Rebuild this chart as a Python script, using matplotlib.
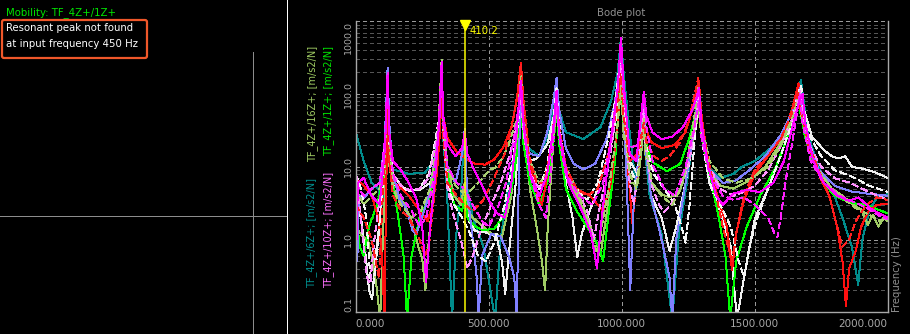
import matplotlib
matplotlib.use("Agg")
import matplotlib.pyplot as plt
import matplotlib.transforms as mtransforms
from matplotlib.patches import FancyBboxPatch

# ---------------------------------------------------------------- data
# Transfer-function magnitudes, (frequency Hz, magnitude m/s2/N)
teal_pts = [(0, 30), (30, 12), (60, 6), (85, 5), (100, 3), (114, 12), (120, 60), (126, 12), (140, 9),
            (150, 9), (200, 8), (260, 8.3), (295, 12), (303, 20), (317, 40), (323, 100), (329, 25), (343, 5),
            (362, 0.08), (380, 1.5), (395, 4), (404, 15), (410, 30), (416, 6), (440, 2), (480, 0.8),
            (524, 0.08), (545, 1), (575, 6), (600, 20), (611, 45), (621, 120), (631, 40), (650, 18),
            (690, 14), (720, 25), (745, 60), (755, 120), (765, 60), (790, 30), (855, 24), (920, 35),
            (960, 80), (985, 200), (997, 585), (1007, 200), (1030, 30), (1055, 5), (1070, 12), (1077, 30),
            (1083, 60), (1089, 15), (1105, 4), (1150, 1.2), (1190, 0.08), (1215, 1.2), (1245, 6),
            (1265, 20), (1280, 45), (1290, 90), (1300, 30), (1325, 10), (1370, 7), (1420, 8), (1452, 10),
            (1500, 12), (1560, 18), (1610, 31), (1640, 60), (1660, 100), (1674, 155), (1684, 80),
            (1700, 30), (1715, 18.6), (1750, 8), (1790, 5), (1830, 2), (1865, 0.8), (1889, 0.24),
            (1905, 1), (1930, 2.5), (1960, 3.8), (2000, 4.2)]

white_pts = [(0, 3.5), (20, 2), (40, 0.5), (50, 0.2), (62, 0.15), (75, 0.6), (95, 2.5), (110, 10),
             (116, 30), (120, 80), (124, 25), (132, 8), (150, 5.5), (200, 4.7), (240, 4.8), (280, 6),
             (305, 15), (317, 40), (323, 150), (329, 30), (343, 8), (370, 3), (400, 2.5), (410, 4),
             (425, 1.8), (450, 1.3), (490, 1.25), (530, 1.1), (550, 0.5), (562, 0.18), (575, 0.6), (600, 5),
             (611, 20), (621, 90), (631, 30), (655, 12), (680, 13), (720, 20), (745, 50), (755, 100),
             (765, 40), (790, 6), (815, 2), (833, 0.57), (850, 1.2), (900, 4), (950, 15), (985, 60),
             (997, 300), (1007, 80), (1030, 12), (1060, 8), (1077, 30), (1083, 80), (1089, 20), (1110, 4),
             (1150, 2), (1180, 0.7), (1205, 1.5), (1240, 6), (1270, 25), (1290, 120), (1300, 35),
             (1330, 6), (1370, 2.5), (1410, 0.8), (1433, 0.08), (1460, 0.3), (1500, 1.9), (1550, 5),
             (1600, 15), (1640, 40), (1660, 90), (1670, 123), (1680, 70), (1700, 40), (1715, 26),
             (1760, 17), (1790, 14), (1815, 13), (1840, 14), (1866, 10), (1900, 9.5), (1950, 8.5),
             (2000, 7)]

red_pts = [(0, 7), (30, 5.5), (60, 4), (85, 2), (100, 0.5), (108, 0.08), (114, 4), (120, 40), (126, 12),
           (140, 6), (160, 5.5), (200, 4), (240, 2.5), (270, 1.8), (290, 3), (305, 8), (317, 30), (323, 120),
           (329, 50), (345, 25), (380, 16), (420, 12.5), (450, 11), (486, 10.7), (520, 12.5), (555, 18.6),
           (585, 35), (605, 80), (621, 266), (631, 80), (655, 12), (675, 5), (700, 3), (712, 5), (735, 20),
           (755, 80), (765, 30), (790, 8), (830, 5), (880, 4), (930, 2.5), (960, 6), (985, 40), (997, 200),
           (1007, 60), (1025, 8), (1040, 1.7), (1055, 6), (1077, 25), (1083, 60), (1089, 35), (1110, 22),
           (1150, 18), (1200, 20), (1240, 30), (1265, 60), (1280, 100), (1290, 150), (1300, 50),
           (1325, 12), (1360, 4), (1395, 1.5), (1415, 0.38), (1430, 1.2), (1460, 3.5), (1500, 8),
           (1550, 14), (1600, 25), (1640, 60), (1665, 140), (1675, 60), (1700, 20), (1740, 8), (1780, 4),
           (1810, 1.5), (1830, 0.5), (1843, 0.12), (1855, 0.4), (1880, 0.7), (1900, 1.5), (1930, 2.5),
           (1960, 3), (2000, 3.1)]

green_pts = [(0, 2.5), (15, 0.8), (30, 0.6), (50, 1.5), (80, 3), (100, 6), (114, 40), (120, 231), (126, 30),
             (140, 6), (160, 2), (180, 0.6), (193, 0.08), (210, 0.6), (240, 2), (280, 4), (305, 12),
             (317, 60), (323, 292), (329, 40), (345, 8), (370, 3), (400, 2.5), (410, 4), (420, 2), (450, 1.5),
             (480, 1.35), (520, 1.4), (560, 2.2), (590, 6), (611, 20), (621, 80), (631, 20), (655, 6),
             (690, 3), (720, 6), (745, 25), (755, 60), (765, 20), (790, 5), (830, 2.5), (880, 1.3),
             (915, 0.8), (930, 0.5), (945, 1.5), (975, 12), (997, 200), (1007, 40), (1030, 12), (1060, 15),
             (1077, 35), (1083, 60), (1089, 25), (1110, 12), (1170, 8.7), (1220, 11), (1255, 25), (1280, 60),
             (1290, 100), (1300, 30), (1330, 8), (1365, 2), (1390, 0.6), (1408, 0.08), (1430, 0.5),
             (1470, 1.5), (1520, 4), (1580, 10), (1630, 30), (1660, 90), (1670, 60), (1690, 25), (1720, 12),
             (1760, 6), (1800, 4), (1860, 3.2), (1920, 3), (1960, 2.6), (2000, 2.3)]

magenta_pts = [(0, 12), (4, 1), (8, 6), (30, 7), (60, 4), (90, 3), (108, 15), (114, 40), (120, 180),
               (126, 30), (140, 12), (170, 9), (200, 6), (230, 3.5), (250, 1.5), (265, 0.26), (280, 1.5),
               (300, 8), (317, 60), (323, 280), (329, 50), (345, 20), (375, 14), (400, 18), (410, 30),
               (420, 15), (440, 10), (470, 6), (500, 3.5), (530, 2.3), (560, 2), (585, 6), (605, 30),
               (621, 150), (631, 40), (655, 8), (690, 4), (720, 8), (745, 40), (755, 110), (765, 30),
               (800, 6), (850, 2.5), (885, 1.2), (907, 0.4), (925, 2), (960, 25), (985, 120), (997, 585),
               (1007, 150), (1030, 15), (1055, 12), (1070, 40), (1083, 108), (1093, 50), (1115, 30),
               (1150, 24), (1190, 26), (1230, 35), (1265, 60), (1282, 90), (1290, 120), (1300, 40),
               (1325, 10), (1355, 4), (1380, 3), (1420, 4.3), (1470, 4.8), (1520, 4.5), (1570, 6),
               (1610, 12), (1645, 40), (1668, 80), (1680, 100), (1690, 40), (1720, 12), (1760, 6),
               (1810, 4), (1855, 3.4), (1890, 3.8), (1940, 2.6), (2000, 2)]

purple_pts = [(0, 5), (6, 0.5), (12, 4), (30, 3.7), (60, 5), (90, 6), (108, 20), (114, 60), (120, 231),
              (126, 40), (140, 8), (165, 3.5), (185, 2.9), (200, 2), (215, 1.3), (228, 1.2), (245, 1.8),
              (275, 4), (305, 20), (317, 60), (323, 200), (329, 40), (345, 10), (375, 6), (400, 15),
              (410, 33), (418, 5), (440, 1), (455, 0.3), (462, 0.08), (475, 0.6), (510, 1.2), (545, 1.1),
              (575, 0.6), (596, 0.3), (606, 0.08), (614, 15), (621, 100), (631, 35), (655, 15), (690, 14),
              (720, 30), (745, 90), (755, 166), (765, 60), (790, 18), (820, 11), (855, 9.2), (900, 11),
              (945, 25), (975, 80), (997, 350), (1007, 60), (1020, 5), (1032, 0.2), (1045, 3), (1070, 25),
              (1083, 70), (1089, 20), (1110, 4), (1150, 1), (1180, 0.3), (1190, 0.08), (1205, 1),
              (1240, 6), (1270, 30), (1290, 100), (1300, 35), (1330, 9), (1380, 6), (1430, 6.5), (1480, 9),
              (1540, 14), (1600, 28), (1645, 60), (1670, 120), (1680, 60), (1700, 25), (1740, 9),
              (1800, 5.5), (1860, 4.6), (1920, 4.3), (2000, 4)]

lime_pts = [(0, 1.5), (25, 1.1), (45, 1.0), (65, 0.5), (80, 0.2), (92, 0.08), (102, 1), (112, 8), (118, 50),
            (124, 12), (140, 5), (160, 4), (185, 3), (210, 1.8), (235, 0.8), (250, 0.55), (262, 0.2),
            (275, 1), (295, 6), (310, 30), (323, 292), (329, 50), (345, 10), (370, 4), (395, 3), (410, 6),
            (420, 2.5), (440, 2), (470, 1.6), (510, 1.2), (550, 1.1), (585, 4), (605, 25), (621, 200),
            (631, 30), (655, 5), (680, 1.5), (700, 0.5), (712, 0.2), (722, 1.5), (740, 15), (755, 80),
            (765, 30), (790, 8), (830, 4), (870, 2), (900, 1), (920, 0.6), (945, 2.5), (975, 15), (997, 120),
            (1007, 30), (1030, 6), (1060, 6), (1077, 20), (1083, 50), (1089, 15), (1110, 6), (1150, 4.2),
            (1180, 3.8), (1215, 4.3), (1245, 10), (1275, 30), (1290, 60), (1300, 25), (1330, 9), (1370, 5.5),
            (1420, 5), (1480, 6.5), (1540, 10), (1600, 22), (1640, 45), (1668, 110), (1678, 50), (1700, 20),
            (1740, 9), (1790, 5), (1830, 4), (1870, 3), (1900, 2.6), (1925, 1.6), (1945, 2.2), (1965, 1.5),
            (1985, 2), (2000, 1.8)]

magenta_d_pts = [(0, 6), (30, 4), (60, 5), (90, 6), (108, 20), (114, 50), (120, 200), (126, 30), (140, 8),
                 (170, 4), (210, 2.5), (240, 1.5), (265, 2), (290, 6), (310, 30), (323, 250), (329, 40),
                 (345, 10), (380, 6), (410, 5), (440, 3), (475, 1.8), (500, 1.5), (530, 2.5), (565, 6),
                 (595, 25), (611, 60), (621, 120), (631, 35), (655, 8), (690, 3), (715, 2), (735, 10),
                 (755, 80), (765, 25), (790, 8), (840, 4), (890, 3), (930, 6), (965, 30), (985, 120),
                 (997, 500), (1007, 100), (1030, 18), (1060, 20), (1075, 50), (1083, 100), (1093, 35),
                 (1120, 10), (1160, 5), (1200, 4), (1240, 10), (1270, 30), (1290, 80), (1300, 25), (1330, 8),
                 (1380, 4), (1420, 3.5), (1460, 3.8), (1500, 3), (1550, 2), (1575, 1.2), (1585, 1.07),
                 (1598, 2), (1615, 6), (1640, 20), (1660, 60), (1670, 100), (1680, 40), (1710, 12),
                 (1760, 6), (1820, 4), (1880, 3.2), (1930, 2.6), (1970, 2.1), (2000, 1.9)]

white_d_pts = [(0, 8), (20, 5), (40, 2), (55, 0.3), (68, 0.25), (80, 0.6), (100, 5), (114, 25), (120, 100),
               (126, 20), (140, 8), (170, 5.5), (200, 4.7), (240, 5), (275, 8), (305, 30), (317, 60),
               (323, 200), (329, 30), (345, 6), (370, 3), (400, 2), (430, 1.2), (460, 0.6), (490, 0.5),
               (520, 0.9), (560, 3), (590, 12), (611, 40), (621, 150), (631, 40), (655, 8), (690, 5),
               (720, 10), (745, 50), (755, 120), (765, 35), (790, 10), (830, 5), (870, 3.5), (910, 6),
               (950, 25), (980, 100), (997, 400), (1007, 80), (1030, 10), (1055, 6), (1075, 25), (1083, 50),
               (1090, 20), (1120, 8), (1160, 5), (1200, 3), (1225, 1.5), (1240, 0.9), (1255, 3), (1275, 25),
               (1290, 90), (1300, 25), (1330, 6), (1370, 3), (1410, 1.5), (1440, 0.5), (1460, 0.3),
               (1480, 0.8), (1510, 2), (1550, 5), (1600, 15), (1640, 40), (1662, 100), (1675, 130),
               (1685, 60), (1710, 25), (1750, 14), (1800, 9), (1860, 7.5), (1930, 5.5), (2000, 4.5)]

pink_d_pts = [(0, 10), (15, 3), (30, 0.8), (42, 0.3), (55, 0.25), (70, 1), (95, 5), (114, 30), (120, 120),
              (126, 20), (140, 8), (170, 5.5), (200, 4.8), (240, 5), (275, 7), (305, 25), (317, 50),
              (323, 180), (329, 30), (345, 5), (370, 2), (395, 1), (420, 0.4), (440, 0.6), (475, 1.5),
              (510, 3), (545, 6), (580, 15), (605, 35), (621, 100), (631, 30), (655, 8), (690, 5), (720, 8),
              (745, 40), (755, 90), (765, 30), (790, 10), (830, 5), (870, 2.5), (895, 1.0), (915, 2.5),
              (945, 8), (970, 30), (997, 300), (1007, 60), (1030, 6), (1045, 3), (1065, 10), (1083, 60),
              (1090, 20), (1110, 6), (1140, 3), (1160, 2.4), (1185, 3), (1220, 5), (1255, 12), (1280, 50),
              (1290, 110), (1300, 30), (1330, 10), (1370, 5), (1420, 4), (1460, 4.5), (1500, 5.5),
              (1550, 9), (1600, 20), (1645, 50), (1670, 110), (1680, 50), (1710, 18), (1750, 10),
              (1800, 7), (1860, 6), (1930, 4.5), (2000, 3.5)]

red_d_pts = [(0, 3), (30, 2), (60, 1), (80, 0.4), (88, 0.3), (100, 3), (112, 15), (118, 60), (124, 15),
             (140, 4), (170, 2.5), (200, 2), (240, 1), (260, 0.6), (275, 0.8), (295, 4), (310, 20), (323, 100),
             (329, 25), (345, 6), (380, 4), (410, 3), (440, 2.5), (480, 3.5), (520, 7), (560, 15), (590, 40),
             (608, 100), (621, 260), (631, 80), (650, 15), (680, 6), (710, 6), (735, 20), (755, 90),
             (765, 35), (790, 10), (830, 5), (870, 4), (910, 5), (950, 15), (980, 60), (997, 180),
             (1007, 50), (1030, 12), (1060, 15), (1083, 40), (1093, 22), (1120, 14), (1150, 12), (1180, 14),
             (1220, 22), (1250, 40), (1275, 100), (1288, 169), (1298, 60), (1320, 15), (1350, 5),
             (1380, 1.5), (1400, 0.8), (1415, 0.5), (1430, 1.2), (1460, 4), (1500, 9), (1550, 14),
             (1600, 25), (1640, 55), (1660, 110), (1672, 60), (1700, 22), (1740, 9), (1780, 4), (1810, 1.5),
             (1830, 0.8), (1855, 1), (1880, 1.8), (1920, 3), (1960, 3.8), (2000, 3.5)]

lime_d_pts = [(0, 5), (30, 3), (60, 4), (90, 5), (108, 12), (114, 30), (120, 150), (126, 25), (140, 5),
              (170, 3), (210, 2), (245, 2.5), (280, 5), (305, 20), (317, 60), (323, 292), (329, 40),
              (345, 10), (375, 5.5), (400, 4.5), (430, 4.7), (470, 6.5), (502, 9), (525, 9.8), (550, 13),
              (575, 20), (595, 35), (610, 47), (621, 180), (631, 50), (655, 12), (690, 6), (720, 8),
              (745, 30), (755, 60), (765, 30), (790, 10), (830, 5), (870, 2), (895, 0.9), (910, 0.6),
              (925, 1.5), (960, 8), (985, 40), (997, 150), (1007, 40), (1030, 8), (1055, 5), (1075, 20),
              (1083, 45), (1090, 18), (1115, 6), (1150, 4), (1190, 3), (1230, 6), (1265, 30), (1290, 140),
              (1300, 40), (1330, 12), (1380, 7), (1430, 6), (1490, 7), (1550, 10), (1600, 20), (1640, 45),
              (1665, 110), (1675, 50), (1700, 22), (1740, 9), (1790, 5), (1840, 3.5), (1880, 2.7),
              (1930, 2.2), (1970, 1.8), (2000, 2)]

x_ticks = [0, 500, 1000, 1500, 2000]
x_tick_labels = ["0.000", "500.000", "1000.000", "1500.000", "2000.000"]
y_ticks = [0.1, 1, 10, 100, 1000]
y_tick_labels = ["0.1", "1.0", "10.0", "100.0", "1000.0"]
CURSOR_HZ = 410.2
INPUT_HZ = 450

# ---------------------------------------------------------------- figure
W, H = 910, 334
PX = 72 / 100  # one pixel in points
fig = plt.figure(figsize=(W / 100, H / 100), dpi=100, facecolor="black")
plt.rcParams["font.family"] = ["DejaVu Sans"]

# Left panel: mobility view with crosshair
axl = fig.add_axes([0, 0, 288 / W, 1])
axl.set_facecolor("black")
axl.set_xlim(0, 288)
axl.set_ylim(H, 0)
axl.axis("off")
axl.plot([0, 286], [215.5, 215.5], color="#8c8c8c", lw=PX, antialiased=False)
axl.plot([252.5, 252.5], [52, H], color="#8c8c8c", lw=PX, antialiased=False)
axl.plot([287.5, 287.5], [0, H], color="white", lw=2 * PX, antialiased=False)
axl.text(6, 12.5, "Mobility: TF_4Z+/1Z+", color="#00e600", fontsize=7.3, va="center", ha="left")
box = FancyBboxPatch((2, 20), 145, 38, boxstyle="round,pad=0,rounding_size=2",
                     fill=False, edgecolor="#f0582a", lw=1.6)
axl.add_patch(box)
axl.text(6, 28, "Resonant peak not found", color="white", fontsize=7.3, va="center", ha="left")
axl.text(6, 44, f"at input frequency {INPUT_HZ} Hz", color="white", fontsize=7.3, va="center", ha="left")

# Right panel: Bode magnitude plot
x0, x1, y0, y1 = 355.7, 887.7, 21.3, 312.3
ax = fig.add_axes([x0 / W, 1 - y1 / H, (x1 - x0) / W, (y1 - y0) / H])
ax.set_facecolor("black")
ax.set_yscale("log")
ax.set_xlim(0, 2000)
ax.set_ylim(0.1, 1000)

grid_major = "#9a9a9a"
grid_minor = "#555555"
ax.set_yticks(y_ticks)
ax.set_yticks([k * 10.0 ** e for e in range(-1, 3) for k in range(2, 10)], minor=True)
ax.set_xticks(x_ticks)
ax.yaxis.grid(True, which="major", color=grid_major, ls=(0, (4, 4)), lw=PX, antialiased=False)
ax.yaxis.grid(True, which="minor", color=grid_minor, ls=(0, (4, 4)), lw=PX, antialiased=False)
ax.xaxis.grid(True, which="major", color=grid_major, ls=(0, (4, 4)), lw=PX, antialiased=False)
ax.set_axisbelow(True)

for side in ("left", "bottom", "right"):
    ax.spines[side].set_color("#a8a8a8")
    ax.spines[side].set_linewidth(1.0)
ax.spines["top"].set_visible(False)

ax.set_xticklabels(x_tick_labels, color="#a8a8a8", fontsize=7.5)
ax.set_yticklabels(y_tick_labels, color="#a8a8a8", fontsize=6.8, rotation=90)
ax.tick_params(axis="both", which="both", length=0)
ax.tick_params(axis="x", pad=4.5)
ax.tick_params(axis="y", pad=2)
xl = ax.get_xticklabels()
xl[0].set_ha("left")
xl[-1].set_ha("right")
for lab in ax.get_yticklabels():
    lab.set_va("center")
yl = ax.get_yticklabels()
yl[0].set_va("bottom")
yl[-1].set_va("top")

series = [
    (teal_pts, "#008c8c", "-"),
    (white_pts, "#f0f0f0", "-"),
    (lime_pts, "#a0cc64", "-"),
    (green_pts, "#00ff00", "-"),
    (red_pts, "#ff1010", "-"),
    (purple_pts, "#8080ff", "-"),
    (white_d_pts, "#f4f4f4", (0, (6, 3))),
    (pink_d_pts, "#ff90ff", (0, (6, 3))),
    (lime_d_pts, "#a8d070", (0, (6, 3))),
    (red_d_pts, "#ff2020", (0, (6, 3))),
    (magenta_d_pts, "#ff20ff", (0, (6, 3))),
    (magenta_pts, "#ff00ff", "-"),
]
for pts, col, ls in series:
    f = [p[0] for p in pts]
    a = [p[1] for p in pts]
    ax.plot(f, a, color=col, ls=ls, lw=PX, antialiased=False)

# Cursor
ax.axvline(CURSOR_HZ, color="#ffff00", lw=1.5 * PX, zorder=5)
trans = mtransforms.blended_transform_factory(ax.transData, ax.transAxes)
mark_tr = trans + mtransforms.ScaledTranslation(0, -3.5 / 100, fig.dpi_scale_trans)
ax.plot([CURSOR_HZ], [1.0], marker="v", color="#ffff00", markersize=6.5, transform=mark_tr,
        clip_on=False, zorder=6)
ax.annotate(f"{CURSOR_HZ:.1f}", xy=(CURSOR_HZ, 1.0), xycoords=trans, xytext=(3.5, -7),
            textcoords="offset points", color="#ffff00", fontsize=7.3, ha="left", va="center")

# Titles and axis labels
fig.text(621 / W, 1 - 13 / H, "Bode plot", color="#909090", fontsize=7.3, ha="center", va="center")
fig.text(897.5 / W, 1 - 312 / H, "Frequency (Hz)", color="#909090", fontsize=7.3,
         rotation=90, ha="center", va="bottom")
fig.text(312.5 / W, 1 - 46 / H, "TF_4Z+/16Z+; [m/s2/N]", color="#a0cc64", fontsize=7,
         rotation=90, ha="center", va="top")
fig.text(329 / W, 1 - 46 / H, "TF_4Z+/1Z+; [m/s2/N]", color="#00e600", fontsize=7,
         rotation=90, ha="center", va="top")
fig.text(312 / W, 1 - 288 / H, "TF_4Z+/6Z+; [m/s2/N]", color="#009090", fontsize=7,
         rotation=90, ha="center", va="bottom")
fig.text(329 / W, 1 - 288 / H, "TF_4Z+/10Z+; [m/s2/N]", color="#ff70ff", fontsize=7,
         rotation=90, ha="center", va="bottom")

fig.savefig("out.png", dpi=100, facecolor="black")
